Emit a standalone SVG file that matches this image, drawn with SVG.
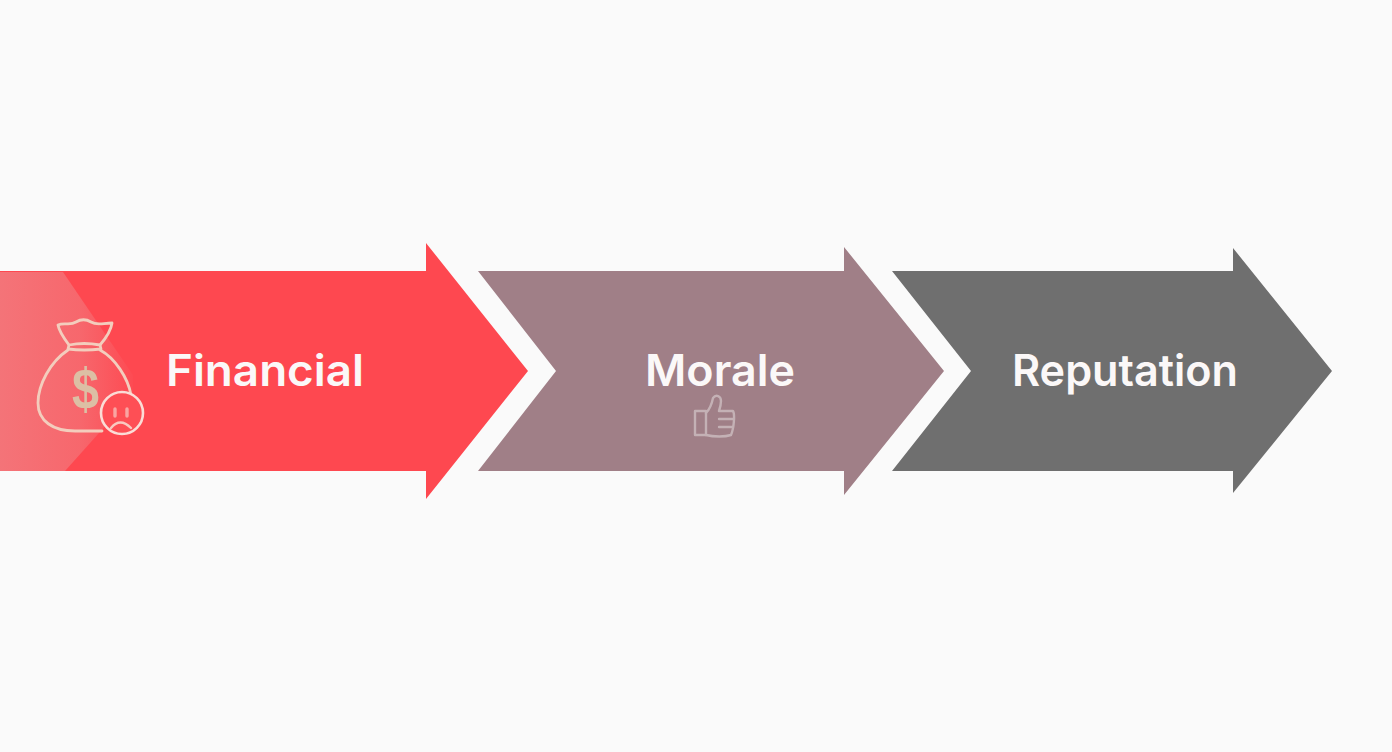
<svg xmlns="http://www.w3.org/2000/svg" width="1392" height="752" viewBox="0 0 1392 752">
<defs>
<linearGradient id="sheen" x1="0" y1="0" x2="1" y2="0">
<stop offset="0" stop-color="#e6b0b0" stop-opacity="0.42"/>
<stop offset="0.6" stop-color="#e6b0b0" stop-opacity="0.3"/>
<stop offset="1" stop-color="#e6b0b0" stop-opacity="0.03"/>
</linearGradient>
</defs>
<style>
.lbl{font-family:"Inter","Liberation Sans",sans-serif;font-size:44px;font-weight:600;fill:#fbf8f8;text-anchor:middle;font-variant-ligatures:none;}
.ic{fill:none;stroke-linejoin:round;stroke-linecap:round;}
</style>
<rect width="1392" height="752" fill="#fafafa"/>
<g id="node-financial">
<polygon points="0,271 426,271 426,243 528,371 426,499 426,471 0,471" fill="#fe4850"/>
<polygon points="0,272 63,272 133,375 133,395 65,471 0,471" fill="url(#sheen)"/>
<g class="ic" stroke="#f3cdbd" stroke-width="2.8">
<path d="M69,345 C63,337 59,331 58,325 C64,322 70,326 76,322 C81,319 86,319 91,322 C97,326 103,323 112,323 C111,331 106,338 100,345"/>
<path d="M69,345 Q84,342 100,345 L101,349 Q84,351 68,349 Z"/>
<path d="M68,350 C50,362 38,385 38,403 C38,421 53,431 75,431 L102,431 M100,350 C115,358 128,378 131,395"/>
</g>
<text x="85.500" y="409" font-family="'Liberation Sans',sans-serif" font-weight="700" font-size="58" fill="#dcbfa4" text-anchor="middle" textLength="27" lengthAdjust="spacingAndGlyphs">$</text>
<g id="sad-face">
<circle cx="122" cy="413" r="21" fill="#fe4f55" stroke="#fbdcd6" stroke-width="2.6"/>
<path d="M115,409 V416 M127,409 V416" stroke="#f9a5a2" stroke-width="3.4" stroke-linecap="round" fill="none"/>
<path d="M111,428 Q120,417 131,428" stroke="#f9c9c0" stroke-width="2.4" stroke-linecap="round" fill="none"/>
</g>
<text class="lbl" x="265" y="386" textLength="198" lengthAdjust="spacingAndGlyphs">Financial</text>
</g>
<g id="node-morale">
<polygon points="478,271 844,271 844,247 944,371 844,495 844,471 478,471 556,371" fill="#a07f87"/>
<g class="ic" stroke="#c6b4b8" stroke-width="2.4" opacity="0.95">
<path d="M695,411 H706 V435 H695 Z"/>
<path d="M706,413 C711,408 712,403 713,398 C716,394 721,396 721,401 C721,405 720,408 719,411 L733,411 C735,414 734,428 731,435 C725,437 714,437 706,435"/>
<path d="M719,419 H734 M719,427 H733"/>
</g>
<text class="lbl" x="720" y="386" textLength="150" lengthAdjust="spacingAndGlyphs">Morale</text>
</g>
<g id="node-reputation">
<polygon points="892,271 1233,271 1233,248 1332,371 1233,493 1233,471 892,471 971,371" fill="#6f6f6f"/>
<text class="lbl" x="1125" y="386" textLength="226" lengthAdjust="spacingAndGlyphs">Reputation</text>
</g>
<g id="connectors"></g>
</svg>
